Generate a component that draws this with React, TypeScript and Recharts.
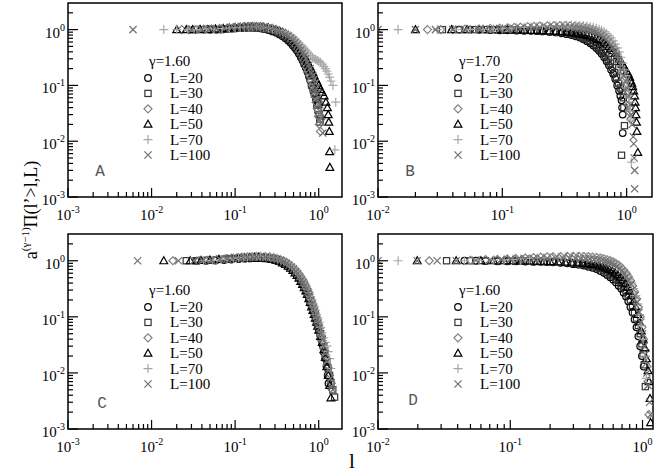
import React from 'react';
import { ScatterChart, Scatter, XAxis, YAxis, ReferenceArea } from 'recharts';

const serif = '"Liberation Serif", "Times New Roman", serif';

// system sizes shown in every panel
const sizes = [20, 30, 40, 50, 70, 100];

// tick values (majors + log minors)
const xTicksWide = [
  0.001, 0.002, 0.003, 0.004, 0.005, 0.006, 0.007, 0.008, 0.009,
  0.01, 0.02, 0.03, 0.04, 0.05, 0.06, 0.07, 0.08, 0.09,
  0.1, 0.2, 0.3, 0.4, 0.5, 0.6, 0.7, 0.8, 0.9, 1,
];
const xTicksNarrow = [
  0.01, 0.02, 0.03, 0.04, 0.05, 0.06, 0.07, 0.08, 0.09,
  0.1, 0.2, 0.3, 0.4, 0.5, 0.6, 0.7, 0.8, 0.9, 1,
];
const yTicks = [
  0.001, 0.002, 0.003, 0.004, 0.005, 0.006, 0.007, 0.008, 0.009,
  0.01, 0.02, 0.03, 0.04, 0.05, 0.06, 0.07, 0.08, 0.09,
  0.1, 0.2, 0.3, 0.4, 0.5, 0.6, 0.7, 0.8, 0.9, 1, 2,
];

type Pt = [number, number];

// ---- panel A (gamma = 1.60) ----
const a20: Pt[] = [[0.05,1.0],[0.06,1.0],[0.07,1.01],[0.08,1.03],[0.09,1.04],[0.1,1.05],[0.115,1.06],[0.13,1.07],[0.145,1.08],[0.16,1.08],[0.175,1.08],[0.19,1.07],[0.205,1.05],[0.22,1.03],[0.25,0.98],[0.28,0.93],[0.31,0.88],[0.34,0.82],[0.37,0.76],[0.4,0.7],[0.43,0.64],[0.46,0.58],[0.49,0.52],[0.52,0.47],[0.55,0.42],[0.58,0.37],[0.61,0.32],[0.64,0.28],[0.67,0.24],[0.7,0.21],[0.73,0.18],[0.76,0.15],[0.79,0.125],[0.82,0.1],[0.85,0.088],[0.88,0.075],[0.91,0.065],[0.94,0.056],[0.97,0.048],[1.0,0.045]];
const a30: Pt[] = [[0.033,1.0],[0.04,1.0],[0.05,1.02],[0.062,1.0],[0.075,1.03],[0.09,1.05],[0.105,1.06],[0.12,1.08],[0.135,1.09],[0.15,1.1],[0.165,1.1],[0.18,1.09],[0.2,1.08],[0.23,1.05],[0.26,1.01],[0.29,0.96],[0.32,0.91],[0.35,0.85],[0.38,0.79],[0.41,0.73],[0.44,0.67],[0.47,0.61],[0.5,0.55],[0.53,0.5],[0.56,0.44],[0.59,0.39],[0.62,0.34],[0.65,0.3],[0.68,0.26],[0.71,0.22],[0.74,0.18],[0.77,0.15],[0.8,0.125],[0.83,0.1],[0.86,0.085],[0.89,0.07],[0.92,0.058],[0.95,0.045],[0.98,0.036],[1.01,0.03],[1.04,0.025],[1.03,0.022]];
const a40: Pt[] = [[0.023,1.0],[0.028,1.0],[0.034,1.0],[0.042,1.02],[0.052,1.03],[0.065,1.05],[0.08,1.07],[0.095,1.09],[0.11,1.11],[0.125,1.12],[0.14,1.13],[0.155,1.14],[0.17,1.14],[0.19,1.13],[0.21,1.12],[0.24,1.09],[0.27,1.05],[0.3,1.0],[0.33,0.94],[0.36,0.88],[0.39,0.82],[0.42,0.76],[0.45,0.69],[0.48,0.63],[0.51,0.56],[0.54,0.5],[0.57,0.44],[0.6,0.39],[0.63,0.34],[0.66,0.29],[0.69,0.25],[0.72,0.21],[0.75,0.18],[0.78,0.15],[0.81,0.12],[0.84,0.1],[0.87,0.082],[0.9,0.065],[0.93,0.05],[0.96,0.038],[0.99,0.028],[1.02,0.02],[1.05,0.015]];
const a50: Pt[] = [[0.02,1.0],[0.026,1.0],[0.031,1.0],[0.038,1.01],[0.047,1.0],[0.058,1.03],[0.072,1.05],[0.085,1.07],[0.1,1.09],[0.115,1.1],[0.13,1.12],[0.145,1.12],[0.16,1.13],[0.18,1.13],[0.2,1.12],[0.22,1.11],[0.25,1.08],[0.28,1.04],[0.31,1.0],[0.34,0.95],[0.37,0.9],[0.4,0.84],[0.43,0.78],[0.46,0.72],[0.49,0.65],[0.52,0.59],[0.55,0.53],[0.58,0.48],[0.61,0.43],[0.64,0.38],[0.67,0.34],[0.7,0.3],[0.73,0.27],[0.76,0.24],[0.79,0.21],[0.82,0.19],[0.85,0.17],[0.88,0.15],[0.92,0.13],[0.96,0.115],[1.0,0.1],[1.05,0.085],[1.1,0.075],[1.16,0.065],[1.22,0.05],[1.27,0.04],[1.3,0.03],[1.32,0.022],[1.34,0.015],[1.35,0.0065],[1.36,0.0034]];
const a70: Pt[] = [[0.014,1.0],[0.02,1.0],[0.027,1.0],[0.035,1.0],[0.045,1.02],[0.056,1.02],[0.07,1.04],[0.085,1.06],[0.1,1.08],[0.115,1.09],[0.13,1.1],[0.145,1.11],[0.16,1.12],[0.18,1.12],[0.2,1.11],[0.22,1.1],[0.25,1.07],[0.28,1.04],[0.31,1.0],[0.34,0.97],[0.37,0.93],[0.4,0.88],[0.43,0.83],[0.46,0.78],[0.49,0.73],[0.52,0.68],[0.55,0.63],[0.58,0.58],[0.61,0.54],[0.64,0.5],[0.67,0.46],[0.7,0.43],[0.73,0.4],[0.76,0.37],[0.8,0.34],[0.84,0.32],[0.88,0.3],[0.92,0.29],[0.96,0.28],[1.0,0.27],[1.05,0.26],[1.1,0.24],[1.15,0.22],[1.2,0.2],[1.25,0.18],[1.3,0.16],[1.35,0.14],[1.4,0.12],[1.48,0.1],[1.6,0.05],[1.56,0.007]];
const a100: Pt[] = [[0.006,1.0],[0.03,1.0],[0.04,1.01],[0.05,1.03],[0.06,1.04],[0.075,1.06],[0.09,1.08],[0.105,1.1],[0.12,1.11],[0.135,1.12],[0.15,1.13],[0.165,1.13],[0.18,1.13],[0.2,1.12],[0.22,1.1],[0.25,1.07],[0.28,1.03],[0.31,0.98],[0.34,0.93],[0.37,0.88],[0.4,0.82],[0.43,0.77],[0.46,0.71],[0.49,0.65],[0.52,0.59],[0.55,0.53],[0.58,0.48],[0.61,0.43],[0.64,0.38],[0.67,0.34],[0.7,0.3],[0.73,0.26],[0.76,0.23],[0.79,0.2],[0.82,0.17],[0.85,0.15],[0.88,0.13],[0.91,0.11],[0.94,0.09],[0.97,0.075],[1.0,0.06],[1.03,0.045],[1.06,0.033],[1.09,0.022],[1.12,0.014]];

// ---- panel B (gamma = 1.70) ----
const b20: Pt[] = [[0.045,1.0],[0.055,1.0],[0.065,0.99],[0.08,0.98],[0.095,0.97],[0.11,0.97],[0.13,0.96],[0.15,0.95],[0.17,0.95],[0.19,0.94],[0.21,0.93],[0.24,0.91],[0.27,0.89],[0.3,0.86],[0.33,0.83],[0.36,0.8],[0.39,0.76],[0.42,0.72],[0.45,0.67],[0.48,0.62],[0.51,0.57],[0.54,0.52],[0.57,0.47],[0.6,0.42],[0.63,0.37],[0.66,0.32],[0.69,0.27],[0.72,0.23],[0.75,0.19],[0.78,0.16],[0.81,0.13],[0.84,0.1],[0.87,0.08],[0.89,0.065],[0.91,0.054],[0.92,0.04],[0.93,0.03],[0.93,0.014]];
const b30: Pt[] = [[0.033,1.0],[0.045,1.0],[0.06,1.0],[0.075,1.0],[0.09,0.99],[0.105,0.98],[0.12,0.98],[0.14,0.97],[0.16,0.97],[0.18,0.96],[0.2,0.95],[0.23,0.94],[0.26,0.92],[0.29,0.9],[0.32,0.88],[0.35,0.85],[0.38,0.81],[0.41,0.77],[0.44,0.73],[0.47,0.69],[0.5,0.64],[0.53,0.59],[0.56,0.54],[0.59,0.49],[0.62,0.44],[0.65,0.39],[0.68,0.34],[0.71,0.29],[0.74,0.25],[0.77,0.21],[0.8,0.17],[0.83,0.14],[0.86,0.11],[0.89,0.09],[0.92,0.08],[0.94,0.06],[0.95,0.04],[0.96,0.019],[0.91,0.0056]];
const b40: Pt[] = [[0.025,1.0],[0.032,1.0],[0.04,1.0],[0.05,1.02],[0.065,1.03],[0.08,1.05],[0.095,1.06],[0.11,1.08],[0.125,1.1],[0.14,1.11],[0.16,1.13],[0.18,1.14],[0.2,1.16],[0.23,1.17],[0.26,1.18],[0.29,1.18],[0.32,1.18],[0.35,1.17],[0.38,1.15],[0.41,1.13],[0.44,1.11],[0.47,1.08],[0.5,1.05],[0.53,1.01],[0.56,0.97],[0.59,0.92],[0.62,0.86],[0.65,0.79],[0.68,0.72],[0.71,0.65],[0.74,0.57],[0.77,0.5],[0.8,0.43],[0.83,0.36],[0.86,0.29],[0.89,0.23],[0.92,0.18],[0.95,0.13],[0.98,0.095],[1.01,0.07],[1.04,0.045],[1.06,0.033],[1.08,0.025]];
const b50: Pt[] = [[0.02,1.0],[0.039,1.0],[0.052,1.0],[0.07,1.0],[0.09,1.0],[0.11,0.99],[0.13,0.99],[0.15,0.98],[0.17,0.97],[0.19,0.97],[0.21,0.96],[0.24,0.95],[0.27,0.94],[0.3,0.92],[0.33,0.9],[0.36,0.88],[0.39,0.86],[0.42,0.84],[0.45,0.82],[0.48,0.79],[0.51,0.76],[0.54,0.73],[0.57,0.7],[0.6,0.67],[0.63,0.63],[0.66,0.59],[0.69,0.55],[0.72,0.5],[0.75,0.46],[0.78,0.42],[0.81,0.38],[0.84,0.34],[0.87,0.3],[0.9,0.27],[0.93,0.24],[0.96,0.21],[1.0,0.18],[1.03,0.16],[1.06,0.14],[1.08,0.12],[1.1,0.11],[1.12,0.095],[1.14,0.08],[1.16,0.065],[1.17,0.05],[1.18,0.04],[1.19,0.03],[1.2,0.022],[1.21,0.015],[1.23,0.0063]];
const b70: Pt[] = [[0.0145,1.0],[0.03,1.0],[0.042,1.0],[0.055,1.01],[0.07,1.02],[0.085,1.03],[0.1,1.05],[0.115,1.06],[0.13,1.08],[0.15,1.1],[0.17,1.12],[0.19,1.13],[0.21,1.15],[0.24,1.17],[0.27,1.18],[0.3,1.19],[0.33,1.2],[0.36,1.2],[0.39,1.2],[0.42,1.19],[0.45,1.18],[0.48,1.16],[0.51,1.13],[0.54,1.1],[0.57,1.06],[0.6,1.02],[0.63,0.97],[0.66,0.92],[0.69,0.85],[0.72,0.78],[0.75,0.71],[0.78,0.63],[0.81,0.55],[0.84,0.47],[0.87,0.4],[0.9,0.32],[0.93,0.25],[0.96,0.19],[0.98,0.15],[1.0,0.12],[1.02,0.09],[1.04,0.065],[1.05,0.05],[1.06,0.035],[1.07,0.024],[1.09,0.0042]];
const b100: Pt[] = [[0.01,1.0],[0.02,1.0],[0.029,1.0],[0.04,1.0],[0.05,1.0],[0.065,1.01],[0.08,1.02],[0.095,1.02],[0.11,1.03],[0.125,1.04],[0.14,1.05],[0.16,1.07],[0.18,1.08],[0.2,1.09],[0.23,1.1],[0.26,1.1],[0.29,1.1],[0.32,1.1],[0.35,1.09],[0.38,1.07],[0.41,1.05],[0.44,1.03],[0.47,1.0],[0.5,0.97],[0.53,0.93],[0.56,0.89],[0.59,0.84],[0.62,0.78],[0.65,0.72],[0.68,0.66],[0.71,0.6],[0.74,0.53],[0.77,0.47],[0.8,0.41],[0.83,0.35],[0.86,0.29],[0.89,0.24],[0.92,0.19],[0.95,0.15],[0.98,0.12],[1.01,0.09],[1.04,0.065],[1.07,0.045],[1.09,0.03],[1.11,0.02],[1.13,0.012],[1.14,0.009],[1.15,0.005],[1.16,0.003],[1.16,0.0014]];

// ---- panel C (gamma = 1.60) ----
const c20: Pt[] = [[0.035,1.0],[0.045,1.0],[0.058,1.01],[0.074,1.03],[0.09,1.05],[0.11,1.07],[0.13,1.09],[0.15,1.1],[0.17,1.11],[0.19,1.11],[0.22,1.1],[0.25,1.08],[0.28,1.05],[0.31,1.01],[0.34,0.96],[0.37,0.91],[0.4,0.86],[0.43,0.8],[0.46,0.74],[0.49,0.68],[0.52,0.62],[0.55,0.56],[0.58,0.5],[0.61,0.44],[0.64,0.39],[0.67,0.34],[0.7,0.3],[0.73,0.26],[0.76,0.22],[0.79,0.19],[0.82,0.16],[0.85,0.14],[0.88,0.12],[0.91,0.1],[0.94,0.085],[0.97,0.07],[1.0,0.06],[1.04,0.048],[1.08,0.038],[1.12,0.03],[1.16,0.023],[1.2,0.018],[1.24,0.013],[1.28,0.009],[1.31,0.0065]];
const c30: Pt[] = [[0.026,1.0],[0.034,1.0],[0.045,1.02],[0.058,1.04],[0.074,1.07],[0.09,1.09],[0.11,1.11],[0.13,1.13],[0.15,1.15],[0.17,1.16],[0.19,1.16],[0.22,1.15],[0.25,1.13],[0.28,1.1],[0.31,1.06],[0.34,1.01],[0.37,0.96],[0.4,0.9],[0.43,0.84],[0.46,0.78],[0.49,0.72],[0.52,0.65],[0.55,0.59],[0.58,0.53],[0.61,0.47],[0.64,0.42],[0.67,0.37],[0.7,0.32],[0.73,0.28],[0.76,0.24],[0.79,0.2],[0.82,0.17],[0.85,0.15],[0.88,0.13],[0.91,0.11],[0.94,0.09],[0.97,0.077],[1.0,0.065],[1.05,0.05],[1.1,0.04],[1.15,0.03],[1.2,0.022],[1.25,0.016],[1.3,0.012],[1.35,0.009],[1.4,0.0068],[1.47,0.005],[1.55,0.0037]];
const c40: Pt[] = [[0.018,1.0],[0.037,1.0],[0.047,1.02],[0.06,1.05],[0.076,1.08],[0.09,1.11],[0.105,1.13],[0.12,1.16],[0.14,1.18],[0.16,1.19],[0.18,1.2],[0.2,1.2],[0.23,1.19],[0.26,1.17],[0.29,1.13],[0.32,1.09],[0.35,1.04],[0.38,0.99],[0.41,0.93],[0.44,0.87],[0.47,0.81],[0.5,0.74],[0.53,0.68],[0.56,0.61],[0.59,0.55],[0.62,0.49],[0.65,0.44],[0.68,0.38],[0.71,0.34],[0.74,0.29],[0.77,0.25],[0.8,0.21],[0.83,0.18],[0.86,0.155],[0.89,0.13],[0.92,0.11],[0.95,0.093],[0.98,0.078],[1.02,0.062],[1.06,0.048],[1.1,0.038],[1.15,0.028],[1.2,0.02],[1.26,0.014],[1.33,0.009],[1.4,0.0065],[1.45,0.005]];
const c50: Pt[] = [[0.014,1.0],[0.029,1.0],[0.039,1.01],[0.05,1.03],[0.064,1.06],[0.08,1.08],[0.095,1.1],[0.11,1.12],[0.13,1.13],[0.15,1.14],[0.17,1.15],[0.19,1.15],[0.22,1.13],[0.25,1.11],[0.28,1.07],[0.31,1.03],[0.34,0.98],[0.37,0.92],[0.4,0.86],[0.43,0.8],[0.46,0.74],[0.49,0.67],[0.52,0.61],[0.55,0.55],[0.58,0.49],[0.61,0.43],[0.64,0.38],[0.67,0.33],[0.7,0.29],[0.73,0.25],[0.76,0.21],[0.79,0.18],[0.82,0.15],[0.85,0.13],[0.88,0.11],[0.91,0.095],[0.94,0.08],[0.97,0.068],[1.0,0.058],[1.05,0.045],[1.1,0.035],[1.15,0.026],[1.2,0.019],[1.25,0.013],[1.3,0.009],[1.35,0.006],[1.4,0.0036]];
const c70: Pt[] = [[0.042,1.0],[0.054,1.02],[0.068,1.05],[0.08,1.08],[0.095,1.11],[0.11,1.13],[0.125,1.15],[0.14,1.17],[0.16,1.19],[0.18,1.2],[0.2,1.2],[0.23,1.2],[0.26,1.18],[0.29,1.15],[0.32,1.11],[0.35,1.06],[0.38,1.01],[0.41,0.95],[0.44,0.89],[0.47,0.83],[0.5,0.76],[0.53,0.7],[0.56,0.63],[0.59,0.57],[0.62,0.51],[0.65,0.45],[0.68,0.4],[0.71,0.35],[0.74,0.31],[0.77,0.27],[0.8,0.23],[0.83,0.2],[0.86,0.17],[0.89,0.15],[0.92,0.13],[0.95,0.11],[0.98,0.095],[1.02,0.08],[1.06,0.065],[1.1,0.052],[1.15,0.042],[1.2,0.035],[1.25,0.03],[1.3,0.024],[1.35,0.018],[1.4,0.012]];
const c100: Pt[] = [[0.0068,1.0],[0.021,1.0],[0.032,1.0],[0.041,1.01],[0.052,1.03],[0.066,1.06],[0.08,1.08],[0.095,1.1],[0.11,1.12],[0.125,1.14],[0.14,1.15],[0.16,1.16],[0.18,1.16],[0.2,1.16],[0.23,1.15],[0.26,1.12],[0.29,1.09],[0.32,1.05],[0.35,1.0],[0.38,0.95],[0.41,0.89],[0.44,0.83],[0.47,0.77],[0.5,0.71],[0.53,0.64],[0.56,0.58],[0.59,0.52],[0.62,0.46],[0.65,0.41],[0.68,0.36],[0.71,0.32],[0.74,0.28],[0.77,0.24],[0.8,0.2],[0.83,0.17],[0.86,0.145],[0.89,0.125],[0.92,0.105],[0.95,0.09],[0.98,0.077],[1.02,0.063],[1.06,0.05],[1.1,0.04],[1.15,0.03],[1.2,0.022],[1.26,0.016],[1.32,0.011],[1.38,0.008],[1.44,0.0058],[1.48,0.005]];

// ---- panel D (gamma = 1.60) ----
const d20: Pt[] = [[0.045,1.0],[0.055,1.0],[0.065,0.99],[0.08,0.98],[0.095,0.98],[0.11,0.98],[0.13,0.97],[0.15,0.96],[0.17,0.96],[0.19,0.95],[0.21,0.94],[0.24,0.92],[0.27,0.9],[0.3,0.87],[0.33,0.85],[0.36,0.82],[0.39,0.78],[0.42,0.75],[0.45,0.71],[0.48,0.66],[0.51,0.61],[0.54,0.56],[0.57,0.51],[0.6,0.46],[0.63,0.41],[0.66,0.36],[0.69,0.32],[0.72,0.27],[0.75,0.23],[0.78,0.19],[0.81,0.15],[0.84,0.12],[0.87,0.09],[0.9,0.065],[0.93,0.045],[0.96,0.03],[0.99,0.02],[1.02,0.013]];
const d30: Pt[] = [[0.033,1.0],[0.05,1.0],[0.065,1.0],[0.08,0.99],[0.095,0.99],[0.11,0.98],[0.13,0.98],[0.15,0.97],[0.17,0.97],[0.19,0.96],[0.21,0.95],[0.24,0.94],[0.27,0.92],[0.3,0.9],[0.33,0.88],[0.36,0.86],[0.39,0.83],[0.42,0.8],[0.45,0.76],[0.48,0.72],[0.51,0.68],[0.54,0.63],[0.57,0.59],[0.6,0.54],[0.63,0.49],[0.66,0.44],[0.69,0.39],[0.72,0.34],[0.75,0.29],[0.78,0.24],[0.81,0.2],[0.84,0.16],[0.87,0.12],[0.9,0.095],[0.93,0.07],[0.96,0.05],[0.99,0.033],[1.01,0.022],[1.03,0.014],[1.05,0.0057]];
const d40: Pt[] = [[0.0244,1.0],[0.05,1.02],[0.065,1.05],[0.08,1.06],[0.095,1.08],[0.11,1.1],[0.13,1.12],[0.15,1.14],[0.17,1.16],[0.19,1.17],[0.21,1.18],[0.24,1.19],[0.27,1.2],[0.3,1.2],[0.33,1.2],[0.36,1.19],[0.39,1.18],[0.42,1.16],[0.45,1.14],[0.48,1.11],[0.51,1.08],[0.54,1.04],[0.57,1.0],[0.6,0.95],[0.63,0.89],[0.66,0.83],[0.69,0.76],[0.72,0.68],[0.75,0.6],[0.78,0.52],[0.81,0.44],[0.84,0.36],[0.87,0.28],[0.9,0.21],[0.93,0.15],[0.96,0.1],[0.99,0.065],[1.02,0.04],[1.05,0.025],[1.08,0.013],[1.1,0.007],[1.12,0.0018]];
const d50: Pt[] = [[0.0198,1.0],[0.039,1.0],[0.06,1.0],[0.075,1.0],[0.09,1.0],[0.105,1.0],[0.12,0.99],[0.14,0.99],[0.16,0.98],[0.18,0.98],[0.2,0.97],[0.23,0.96],[0.26,0.95],[0.29,0.94],[0.32,0.92],[0.35,0.91],[0.38,0.89],[0.41,0.86],[0.44,0.84],[0.47,0.81],[0.5,0.78],[0.53,0.74],[0.56,0.7],[0.59,0.66],[0.62,0.61],[0.65,0.56],[0.68,0.51],[0.71,0.45],[0.74,0.4],[0.77,0.34],[0.8,0.29],[0.83,0.24],[0.86,0.19],[0.89,0.15],[0.92,0.11],[0.95,0.08],[0.98,0.056],[1.01,0.04],[1.04,0.028],[1.07,0.018],[1.1,0.011],[1.12,0.007],[1.14,0.0035],[1.15,0.0013]];
const d70: Pt[] = [[0.0142,1.0],[0.045,1.0],[0.058,1.01],[0.075,1.03],[0.09,1.04],[0.105,1.06],[0.12,1.08],[0.14,1.1],[0.16,1.12],[0.18,1.13],[0.2,1.14],[0.23,1.16],[0.26,1.17],[0.29,1.18],[0.32,1.18],[0.35,1.18],[0.38,1.17],[0.41,1.16],[0.44,1.14],[0.47,1.12],[0.5,1.09],[0.53,1.06],[0.56,1.02],[0.59,0.97],[0.62,0.92],[0.65,0.86],[0.68,0.79],[0.71,0.72],[0.74,0.64],[0.77,0.56],[0.8,0.48],[0.83,0.4],[0.86,0.32],[0.89,0.24],[0.92,0.17],[0.95,0.11],[0.98,0.07],[1.01,0.04],[1.04,0.02],[1.07,0.008]];
const d100: Pt[] = [[0.01,1.0],[0.0198,1.0],[0.028,1.0],[0.039,1.0],[0.055,1.02],[0.07,1.03],[0.085,1.04],[0.1,1.06],[0.115,1.07],[0.13,1.08],[0.15,1.09],[0.17,1.1],[0.19,1.11],[0.22,1.12],[0.25,1.12],[0.28,1.12],[0.31,1.11],[0.34,1.1],[0.37,1.09],[0.4,1.07],[0.43,1.05],[0.46,1.03],[0.49,1.0],[0.52,0.97],[0.55,0.93],[0.58,0.89],[0.61,0.84],[0.64,0.79],[0.67,0.73],[0.7,0.66],[0.73,0.59],[0.76,0.52],[0.79,0.45],[0.82,0.38],[0.85,0.31],[0.88,0.24],[0.91,0.18],[0.94,0.12],[0.97,0.08],[1.0,0.05],[1.03,0.03],[1.06,0.017],[1.08,0.01],[1.1,0.006],[1.13,0.003],[1.15,0.0018]];

type Kind = 'circle' | 'square' | 'diamond' | 'triangle' | 'plus' | 'cross';
const kinds: Kind[] = ['circle', 'square', 'diamond', 'triangle', 'plus', 'cross'];
const colors = ['#000', '#333', '#808080', '#000', '#a8a8a8', '#707070'];

function Marker({ kind, cx, cy, color }: { kind: Kind; cx: number; cy: number; color: string }) {
  const common = { fill: 'none', stroke: color, strokeWidth: 1.2 };
  switch (kind) {
    case 'circle':
      return <circle cx={cx} cy={cy} r={3.3} {...common} />;
    case 'square':
      return <rect x={cx - 3.1} y={cy - 3.1} width={6.2} height={6.2} {...common} />;
    case 'diamond':
      return <path d={`M${cx},${cy - 4}L${cx + 4},${cy}L${cx},${cy + 4}L${cx - 4},${cy}Z`} {...common} />;
    case 'triangle':
      return <path d={`M${cx},${cy - 4}L${cx + 3.9},${cy + 3}L${cx - 3.9},${cy + 3}Z`} {...common} />;
    case 'plus':
      return <path d={`M${cx - 4.5},${cy}H${cx + 4.5}M${cx},${cy - 4.5}V${cy + 4.5}`} {...common} />;
    default:
      return <path d={`M${cx - 3.6},${cy - 3.6}L${cx + 3.6},${cy + 3.6}M${cx + 3.6},${cy - 3.6}L${cx - 3.6},${cy + 3.6}`} {...common} />;
  }
}

function expOf(v: number) {
  const l = Math.log10(v);
  const e = Math.round(l);
  return { e, major: Math.abs(l - e) < 1e-6 };
}

function XTick({ x, y, payload }: any) {
  const { e, major } = expOf(payload.value);
  return (
    <g>
      <line x1={x} x2={x} y1={y} y2={y - (major ? 9 : 5)} stroke="#000" strokeWidth={1.2} />
      {major && (
        <text x={x} y={y + 23} textAnchor="middle" fontFamily={serif} fontSize={15} fill="#000">
          10<tspan dy={-7} fontSize={10}>{e === 0 ? '0' : `-${-e}`}</tspan>
        </text>
      )}
    </g>
  );
}

function YTick({ x, y, payload }: any) {
  const { e, major } = expOf(payload.value);
  return (
    <g>
      <line x1={x} x2={x + (major ? 10 : 5)} y1={y} y2={y} stroke="#000" strokeWidth={1.2} />
      {major && (
        <text x={x - 3} y={y + 8} textAnchor="end" fontFamily={serif} fontSize={15} fill="#000">
          10<tspan dy={-7} fontSize={10}>{e === 0 ? '0' : `-${-e}`}</tspan>
        </text>
      )}
    </g>
  );
}

const panels = [
  { id: 'A', gamma: '1.60', series: [a20, a30, a40, a50, a70, a100], xDomain: [0.001, 1.9], xTicks: xTicksWide,
    left: 0, top: 0, width: 350, height: 225, yW: 68, mr: 8, legend: [148, 61], label: [100, 170] },
  { id: 'B', gamma: '1.70', series: [b20, b30, b40, b50, b70, b100], xDomain: [0.01, 1.6], xTicks: xTicksNarrow,
    left: 330, top: 0, width: 340, height: 225, yW: 48, mr: 18, legend: [458, 61], label: [410, 170] },
  { id: 'C', gamma: '1.60', series: [c20, c30, c40, c50, c70, c100], xDomain: [0.001, 1.9], xTicks: xTicksWide,
    left: 0, top: 231, width: 350, height: 226, yW: 68, mr: 8, legend: [148, 290], label: [102, 402] },
  { id: 'D', gamma: '1.60', series: [d20, d30, d40, d50, d70, d100], xDomain: [0.01, 1.2], xTicks: xTicksNarrow,
    left: 330, top: 231, width: 340, height: 226, yW: 48, mr: 17, legend: [458, 290], label: [413, 399] },
];

const yDomain = [0.001, 3];

function Panel({ p }: { p: (typeof panels)[number] }) {
  return (
    <div style={{ position: 'absolute', left: p.left, top: p.top }}>
      <ScatterChart width={p.width} height={p.height} margin={{ top: 3, right: p.mr, left: 0, bottom: 0 }}>
        <XAxis
          type="number"
          dataKey="x"
          scale="log"
          domain={p.xDomain}
          allowDataOverflow
          ticks={p.xTicks}
          interval={0}
          height={28}
          tickSize={0}
          tickMargin={0}
          axisLine={false}
          tickLine={false}
          tick={<XTick />}
        />
        <YAxis
          type="number"
          dataKey="y"
          scale="log"
          domain={yDomain}
          allowDataOverflow
          ticks={yTicks}
          interval={0}
          width={p.yW}
          tickSize={0}
          tickMargin={0}
          axisLine={false}
          tickLine={false}
          tick={<YTick />}
        />
        {p.series.map((s, i) => (
          <Scatter
            key={sizes[i]}
            name={`L=${sizes[i]}`}
            data={s.map(([x, y]) => ({ x, y }))}
            isAnimationActive={false}
            shape={(props: any) => <Marker kind={kinds[i]} cx={props.cx} cy={props.cy} color={colors[i]} />}
          />
        ))}
        <ReferenceArea
          x1={p.xDomain[0]}
          x2={p.xDomain[1]}
          y1={yDomain[0]}
          y2={yDomain[1]}
          fill="none"
          stroke="#000"
          strokeWidth={1.5}
          ifOverflow="visible"
        />
      </ScatterChart>
    </div>
  );
}

function Overlay() {
  return (
    <svg width={672} height={474} style={{ position: 'absolute', left: 0, top: 0, pointerEvents: 'none' }}>
      {panels.map((p) => {
        const [lx, ly] = p.legend;
        return (
          <g key={p.id} fontFamily={serif} fontSize={15} fill="#000">
            <text x={lx + 1} y={ly + 5}>γ={p.gamma}</text>
            {sizes.map((L, i) => {
              const cy = ly + 17 + 15.4 * i;
              return (
                <g key={L}>
                  <Marker kind={kinds[i]} cx={lx} cy={cy} color={colors[i]} />
                  <text x={lx + 22} y={cy + 5}>L={L}</text>
                </g>
              );
            })}
            <text x={p.label[0]} y={p.label[1] + 6} textAnchor="middle" fontFamily='"Liberation Mono", monospace' fontSize={16} fill="#555">
              {p.id}
            </text>
          </g>
        );
      })}
      <text transform="translate(37,210) rotate(-90)" textAnchor="middle" fontFamily={serif} fontSize={18} fill="#000">
        a<tspan dy={-8} fontSize={11}>(γ−1)</tspan>
        <tspan dy={8}>Π(l’&gt;l,L)</tspan>
      </text>
      <text x={352} y={468} textAnchor="middle" fontFamily={serif} fontSize={21} fill="#000">l</text>
    </svg>
  );
}

export default function App() {
  return (
    <div style={{ position: 'absolute', left: 0, top: 0, width: 672, height: 474, background: '#fff' }}>
      {panels.map((p) => (
        <Panel key={p.id} p={p} />
      ))}
      <Overlay />
    </div>
  );
}
